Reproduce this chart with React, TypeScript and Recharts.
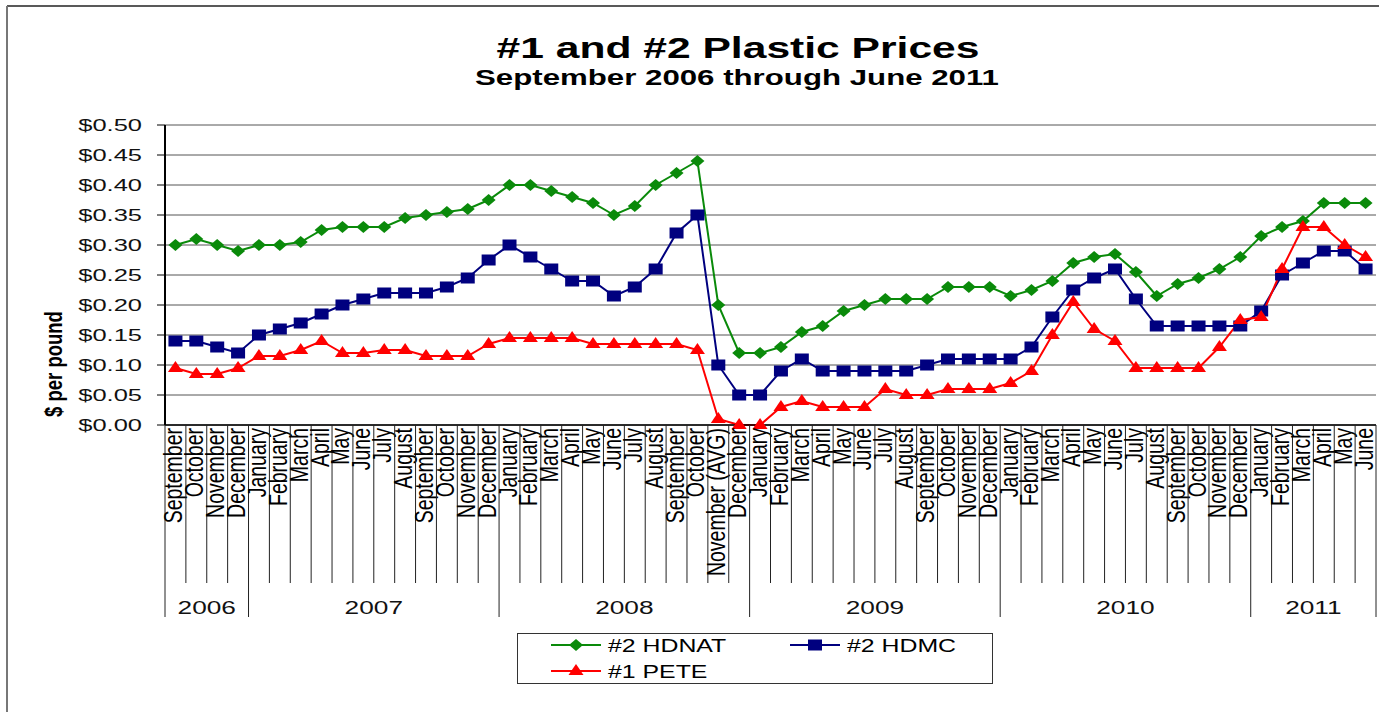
import React from "react";
import { LineChart, Line, XAxis, YAxis, CartesianGrid } from "recharts";

const months = [
  "September", "October", "November", "December",
  "January", "February", "March", "April", "May", "June", "July", "August", "September", "October", "November", "December",
  "January", "February", "March", "April", "May", "June", "July", "August", "September", "October", "November (AVG)", "December",
  "January", "February", "March", "April", "May", "June", "July", "August", "September", "October", "November", "December",
  "January", "February", "March", "April", "May", "June", "July", "August", "September", "October", "November", "December",
  "January", "February", "March", "April", "May", "June",
];

const yearGroups = [
  { label: "2006", count: 4 },
  { label: "2007", count: 12 },
  { label: "2008", count: 12 },
  { label: "2009", count: 12 },
  { label: "2010", count: 12 },
  { label: "2011", count: 6 },
];

const hdnat = [
  0.30, 0.31, 0.30, 0.29,
  0.30, 0.30, 0.305, 0.325, 0.33, 0.33, 0.33, 0.345, 0.35, 0.355, 0.36, 0.375,
  0.40, 0.40, 0.39, 0.38, 0.37, 0.35, 0.365, 0.40, 0.42, 0.44, 0.20, 0.12,
  0.12, 0.13, 0.155, 0.165, 0.19, 0.20, 0.21, 0.21, 0.21, 0.23, 0.23, 0.23,
  0.215, 0.225, 0.24, 0.27, 0.28, 0.285, 0.255, 0.215, 0.235, 0.245, 0.26, 0.28,
  0.315, 0.33, 0.34, 0.37, 0.37, 0.37,
];

const hdmc = [
  0.14, 0.14, 0.13, 0.12,
  0.15, 0.16, 0.17, 0.185, 0.20, 0.21, 0.22, 0.22, 0.22, 0.23, 0.245, 0.275,
  0.30, 0.28, 0.26, 0.24, 0.24, 0.215, 0.23, 0.26, 0.32, 0.35, 0.10, 0.05,
  0.05, 0.09, 0.11, 0.09, 0.09, 0.09, 0.09, 0.09, 0.10, 0.11, 0.11, 0.11,
  0.11, 0.13, 0.18, 0.225, 0.245, 0.26, 0.21, 0.165, 0.165, 0.165, 0.165, 0.165,
  0.19, 0.25, 0.27, 0.29, 0.29, 0.26,
];

const pete = [
  0.095, 0.085, 0.085, 0.095,
  0.115, 0.115, 0.125, 0.14, 0.12, 0.12, 0.125, 0.125, 0.115, 0.115, 0.115, 0.135,
  0.145, 0.145, 0.145, 0.145, 0.135, 0.135, 0.135, 0.135, 0.135, 0.125, 0.01, 0.0,
  0.0, 0.03, 0.04, 0.03, 0.03, 0.03, 0.06, 0.05, 0.05, 0.06, 0.06, 0.06,
  0.07, 0.09, 0.15, 0.205, 0.16, 0.14, 0.095, 0.095, 0.095, 0.095, 0.13, 0.175,
  0.18, 0.26, 0.33, 0.33, 0.30, 0.28,
];

const yTicks = [0, 0.05, 0.1, 0.15, 0.2, 0.25, 0.3, 0.35, 0.4, 0.45, 0.5];

const data = months.map((m, i) => ({ month: m, hdnat: hdnat[i], hdmc: hdmc[i], pete: pete[i] }));

const W = 1379;
const H = 712;
const PLOT_LEFT = 165;
const PLOT_RIGHT = 1376;
const PLOT_BOTTOM = 425;
const STEP = (PLOT_RIGHT - PLOT_LEFT) / months.length;
const FONT = "'Liberation Sans', Arial, sans-serif";
const K = 1.42; // the reference is stretched sideways

const GREEN = "#0a8a0a";
const BLUE = "#00007f";
const RED = "#ff0000";

// index -> year group starting there
const groupStarts: Record<number, { label: string; count: number }> = {};
{
  let s = 0;
  yearGroups.forEach((g) => {
    groupStarts[s] = g;
    s += g.count;
  });
}

const Diamond = ({ cx, cy, fill }: any) => (
  <polygon points={`${cx},${cy - 6} ${cx + 7},${cy} ${cx},${cy + 6} ${cx - 7},${cy}`} fill={fill} />
);
const Square = ({ cx, cy, fill }: any) => <rect x={cx - 7} y={cy - 5.5} width={14} height={11} fill={fill} />;
const Triangle = ({ cx, cy, fill }: any) => (
  <polygon points={`${cx},${cy - 7} ${cx + 7.5},${cy + 4} ${cx - 7.5},${cy + 4}`} fill={fill} />
);

const MonthTick = (props: any) => {
  const { x, index, payload } = props;
  const y = PLOT_BOTTOM;
  const group = groupStarts[index];
  const left = x - STEP / 2;
  const isLast = index === months.length - 1;
  return (
    <g>
      <line x1={left} x2={left} y1={y} y2={group ? 617 : 583} stroke="#222" strokeWidth={1} />
      {isLast && <line x1={x + STEP / 2} x2={x + STEP / 2} y1={y} y2={617} stroke="#222" strokeWidth={1} />}
      <g transform={`translate(${x + 7}, ${y + 3}) rotate(-90) scale(1, 1.3)`}>
        <text textAnchor="end" fontFamily={FONT} fontSize={19.5} fill="#000">
          {payload.value}
        </text>
      </g>
      {group && (
        <g transform={`translate(${x + ((group.count - 1) / 2) * STEP}, 614)`}>
          <text transform={`scale(${K}, 1)`} textAnchor="middle" fontFamily={FONT} fontSize={18.5} fill="#111">
            {group.label}
          </text>
        </g>
      )}
    </g>
  );
};

const PriceTick = (props: any) => {
  const { y, payload } = props;
  return (
    <g transform={`translate(142, ${y + 6})`}>
      <text transform={`scale(1.5, 1)`} textAnchor="end" fontFamily={FONT} fontSize={17} fill="#111">
        {"$" + payload.value.toFixed(2)}
      </text>
    </g>
  );
};

const legendItems = [
  { name: "#2 HDNAT", color: GREEN, shape: "diamond", x: 551, y: 645 },
  { name: "#2 HDMC", color: BLUE, shape: "square", x: 790, y: 645 },
  { name: "#1 PETE", color: RED, shape: "triangle", x: 551, y: 671 },
];

export default function App() {
  return (
    <div style={{ position: "absolute", left: 0, top: 0, width: W, height: H, background: "#fff", overflow: "hidden" }}>
      <LineChart width={W} height={H} data={data} margin={{ top: 125, right: W - PLOT_RIGHT, bottom: 0, left: PLOT_LEFT - 100 }}>
        <CartesianGrid vertical={false} stroke="#555" strokeWidth={1} />
        <XAxis
          dataKey="month"
          interval={0}
          height={H - PLOT_BOTTOM}
          tickSize={0}
          tickMargin={0}
          tickLine={false}
          axisLine={{ stroke: "#000", strokeWidth: 1.5 }}
          padding={{ left: STEP / 2, right: STEP / 2 }}
          tick={<MonthTick />}
        />
        <YAxis
          width={100}
          domain={[0, 0.5]}
          ticks={yTicks}
          interval={0}
          tickSize={8}
          axisLine={{ stroke: "#000", strokeWidth: 2 }}
          tickLine={{ stroke: "#000" }}
          tick={<PriceTick />}
        />
        <YAxis
          yAxisId="frame"
          orientation="right"
          width={0}
          domain={[0, 0.5]}
          tick={false}
          tickLine={false}
          axisLine={{ stroke: "#999", strokeWidth: 1.5 }}
        />
        <Line dataKey="hdnat" name="#2 HDNAT" type="linear" stroke={GREEN} strokeWidth={2} dot={<Diamond fill={GREEN} />} activeDot={false} isAnimationActive={false} />
        <Line dataKey="hdmc" name="#2 HDMC" type="linear" stroke={BLUE} strokeWidth={2} dot={<Square fill={BLUE} />} activeDot={false} isAnimationActive={false} />
        <Line dataKey="pete" name="#1 PETE" type="linear" stroke={RED} strokeWidth={2} dot={<Triangle fill={RED} />} activeDot={false} isAnimationActive={false} />
      </LineChart>

      <svg width={W} height={H} style={{ position: "absolute", left: 0, top: 0, pointerEvents: "none" }}>
        <line x1={7} x2={W} y1={6} y2={6} stroke="#222" strokeWidth={1.5} />
        <line x1={7} x2={7} y1={6} y2={H} stroke="#777" strokeWidth={2} />
        <g transform="translate(738, 58)">
          <text transform={`scale(${K}, 1)`} textAnchor="middle" fontFamily={FONT} fontWeight="bold" fontSize={30}>
            #1 and #2 Plastic Prices
          </text>
        </g>
        <g transform="translate(737, 85)">
          <text transform={`scale(${K}, 1)`} textAnchor="middle" fontFamily={FONT} fontWeight="bold" fontSize={22}>
            September 2006 through June 2011
          </text>
        </g>
        <g transform="translate(62, 364) rotate(-90) scale(1, 1.3)">
          <text textAnchor="middle" fontFamily={FONT} fontWeight="bold" fontSize={18.5}>
            $ per pound
          </text>
        </g>

        <rect x={517.5} y={633.5} width={475} height={50} fill="#fff" stroke="#333" strokeWidth={1} />
        {legendItems.map((it) => (
          <g key={it.name}>
            <line x1={it.x} x2={it.x + 50} y1={it.y} y2={it.y} stroke={it.color} strokeWidth={2} />
            {it.shape === "diamond" && <Diamond cx={it.x + 25} cy={it.y} fill={it.color} />}
            {it.shape === "square" && <Square cx={it.x + 25} cy={it.y} fill={it.color} />}
            {it.shape === "triangle" && <Triangle cx={it.x + 25} cy={it.y} fill={it.color} />}
            <g transform={`translate(${it.x + 57}, ${it.y + 6.5})`}>
              <text transform={`scale(${K}, 1)`} fontFamily={FONT} fontSize={17.5} fill="#000">
                {it.name}
              </text>
            </g>
          </g>
        ))}
      </svg>
    </div>
  );
}
